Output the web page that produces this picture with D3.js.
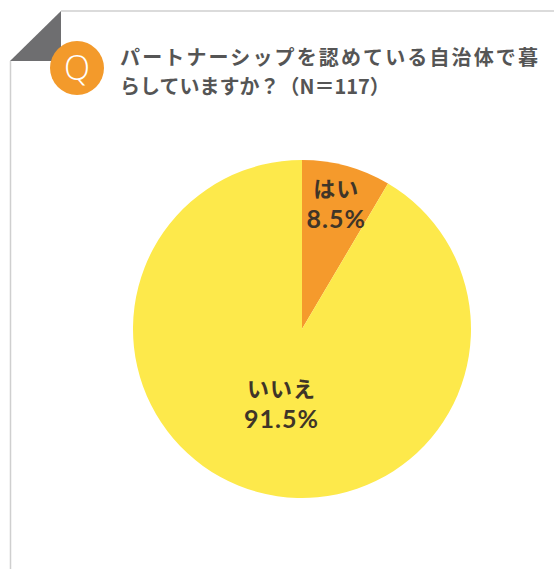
<!DOCTYPE html>
<html>
<head>
<meta charset="utf-8">
<script src="https://cdn.jsdelivr.net/npm/d3@7"></script>
<style>
  body { margin: 0; background: #fff; }
  svg { display: block; }
</style>
</head>
<body>
<script>
var categories = ["はい", "いいえ"];
var values = [8.5, 91.5];
var colors = ["#F59A2C", "#FDE94B"];
var titleLines = ["パートナーシップを認めている自治体で暮", "らしていますか？（N＝117）"];

var width = 554, height = 569;
var svg = d3.select("body").append("svg")
    .attr("width", width)
    .attr("height", height);

// card frame
svg.append("path")
    .attr("d", "M61,11 L560,11 M10.5,61 L10.5,575")
    .attr("stroke", "#cfcfcf")
    .attr("stroke-width", 1.5)
    .attr("fill", "none");

// folded corner
svg.append("path")
    .attr("d", "M61,11 L10,61 L61,61 Z")
    .attr("fill", "#6e6e70");

// Q badge
svg.append("circle")
    .attr("cx", 77).attr("cy", 68).attr("r", 27)
    .attr("fill", "#F39A2B");
svg.append("text")
    .attr("x", 77).attr("y", 80)
    .attr("text-anchor", "middle")
    .attr("font-family", "'Open Sans', 'Noto Sans', sans-serif")
    .attr("font-weight", 300)
    .attr("font-size", 34)
    .attr("fill", "#fff")
    .text("Q");

// title
var title = svg.append("text")
    .attr("font-family", "'Noto Sans CJK JP', sans-serif")
    .attr("font-weight", 700)
    .attr("font-size", 20)
    .attr("fill", "#555");
title.append("tspan").attr("x", 120).attr("y", 65).attr("textLength", 418)
    .attr("lengthAdjust", "spacing").text(titleLines[0]);
title.append("tspan").attr("x", 120).attr("y", 94).text(titleLines[1]);

// pie
var cx = 302, cy = 329, r = 169;
var pie = d3.pie().sort(null).value(function (d) { return d; });
var arcs = pie(values);
var arc = d3.arc().innerRadius(0).outerRadius(r);

var g = svg.append("g").attr("transform", "translate(" + cx + "," + cy + ")");

g.selectAll("path.slice")
    .data(arcs)
    .enter().append("path")
    .attr("class", "slice")
    .attr("fill", function (d, i) { return colors[i]; })
    .attr("d", arc);

var labelRadius = [130, 78];
arcs.forEach(function (d, i) {
    var a = (d.startAngle + d.endAngle) / 2;
    var lx = Math.sin(a) * labelRadius[i];
    var ly = -Math.cos(a) * labelRadius[i];
    g.append("text")
        .attr("x", lx).attr("y", ly - 7)
        .attr("text-anchor", "middle")
        .attr("font-family", "'Noto Sans CJK JP', sans-serif")
        .attr("font-weight", 700)
        .attr("font-size", 22)
        .attr("letter-spacing", 1)
        .attr("fill", "#3f3528")
        .text(categories[i]);
    g.append("text")
        .attr("x", lx).attr("y", ly + 24)
        .attr("text-anchor", "middle")
        .attr("font-family", "Lato, sans-serif")
        .attr("font-weight", 700)
        .attr("font-size", 25)
        .attr("letter-spacing", 1)
        .attr("fill", "#3f3528")
        .text(values[i] + "%");
});
</script>
</body>
</html>
